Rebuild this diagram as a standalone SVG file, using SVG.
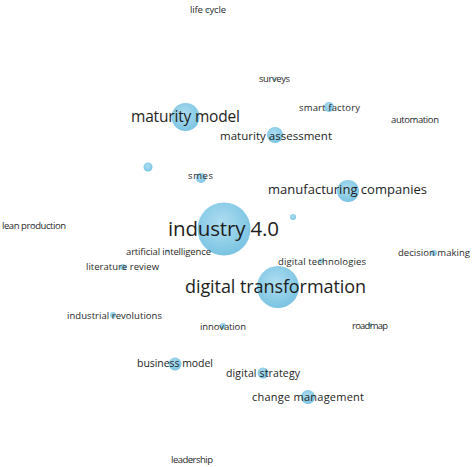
<svg xmlns="http://www.w3.org/2000/svg" width="474" height="467" viewBox="0 0 474 467">
<defs>
<radialGradient id="g" cx="45%" cy="40%" r="60%">
<stop offset="0" stop-color="#a6daf0"/>
<stop offset="1" stop-color="#6cbddf"/>
</radialGradient>
<style>
.c{fill:url(#g);opacity:0.9}
text{font-family:"Open Sans","Noto Sans",sans-serif;fill:#1e1e1e;text-anchor:middle;dominant-baseline:central}
.s{font-size:9.5px;fill:#2a2a2a}
</style>
</defs>
<rect width="474" height="467" fill="#fff"/>
<g id="connectors"></g>
<g id="n-life-cycle"><circle class="c" cx="208" cy="10" r="1"/><text class="s" x="208" y="9" textLength="36">life cycle</text></g>
<g id="n-surveys"><circle class="c" cx="274" cy="79" r="1.5"/><text class="s" x="274.5" y="78" textLength="31">surveys</text></g>
<g id="n-maturity-model"><circle class="c" cx="185.5" cy="117" r="14"/><text x="185.5" y="116" style="font-size:15.5px" textLength="109">maturity model</text></g>
<g id="n-smart-factory"><circle class="c" cx="329" cy="107" r="5"/><text class="s" x="329.5" y="107" textLength="61">smart factory</text></g>
<g id="n-automation"><circle class="c" cx="415" cy="119" r="1"/><text class="s" x="415" y="119" textLength="48">automation</text></g>
<g id="n-maturity-assessment"><circle class="c" cx="275" cy="135" r="8"/><text x="276" y="135" style="font-size:11.5px" textLength="112">maturity assessment</text></g>
<g id="n-unlabeled-1"><circle class="c" cx="148" cy="167" r="4.5"/></g>
<g id="n-smes"><circle class="c" cx="201" cy="178" r="5"/><text class="s" x="200.5" y="175" textLength="25">smes</text></g>
<g id="n-manufacturing-companies"><circle class="c" cx="348" cy="191" r="11"/><text x="347.5" y="189" style="font-size:13px" textLength="159">manufacturing companies</text></g>
<g id="n-unlabeled-2"><circle class="c" cx="293" cy="217" r="3"/></g>
<g id="n-lean-production"><circle class="c" cx="34" cy="225" r="1"/><text class="s" x="34" y="225" textLength="64">lean production</text></g>
<g id="n-industry-4-0"><circle class="c" cx="224" cy="229" r="26.5"/><text x="223.5" y="228" style="font-size:20.5px" textLength="111">industry 4.0</text></g>
<g id="n-artificial-intelligence"><circle class="c" cx="168" cy="251" r="1.5"/><text class="s" x="168.5" y="251" textLength="85">artificial intelligence</text></g>
<g id="n-decision-making"><circle class="c" cx="434" cy="253" r="3"/><text class="s" x="434" y="252" textLength="72">decision making</text></g>
<g id="n-digital-technologies"><circle class="c" cx="321" cy="261" r="2.5"/><text class="s" x="322" y="261" textLength="88">digital technologies</text></g>
<g id="n-literature-review"><circle class="c" cx="123" cy="267" r="3"/><text class="s" x="122.5" y="266" textLength="73">literature review</text></g>
<g id="n-digital-transformation"><circle class="c" cx="278" cy="287" r="21"/><text x="275.5" y="286" style="font-size:18px" textLength="181">digital transformation</text></g>
<g id="n-industrial-revolutions"><circle class="c" cx="113" cy="315" r="3"/><text class="s" x="114.5" y="315" textLength="95">industrial revolutions</text></g>
<g id="n-innovation"><circle class="c" cx="223" cy="326" r="3"/><text class="s" x="223" y="326" textLength="46">innovation</text></g>
<g id="n-roadmap"><circle class="c" cx="370" cy="325" r="2"/><text class="s" x="370" y="325" textLength="36">roadmap</text></g>
<g id="n-business-model"><circle class="c" cx="175" cy="364" r="6.5"/><text x="175" y="363" style="font-size:10.5px" textLength="76">business model</text></g>
<g id="n-digital-strategy"><circle class="c" cx="263" cy="373" r="5.5"/><text x="263" y="373" style="font-size:10.5px" textLength="74">digital strategy</text></g>
<g id="n-change-management"><circle class="c" cx="308" cy="397" r="7"/><text x="308" y="396" style="font-size:11px" textLength="112">change management</text></g>
<g id="n-leadership"><circle class="c" cx="192" cy="459" r="1"/><text class="s" x="192" y="459" textLength="42">leadership</text></g>
</svg>
